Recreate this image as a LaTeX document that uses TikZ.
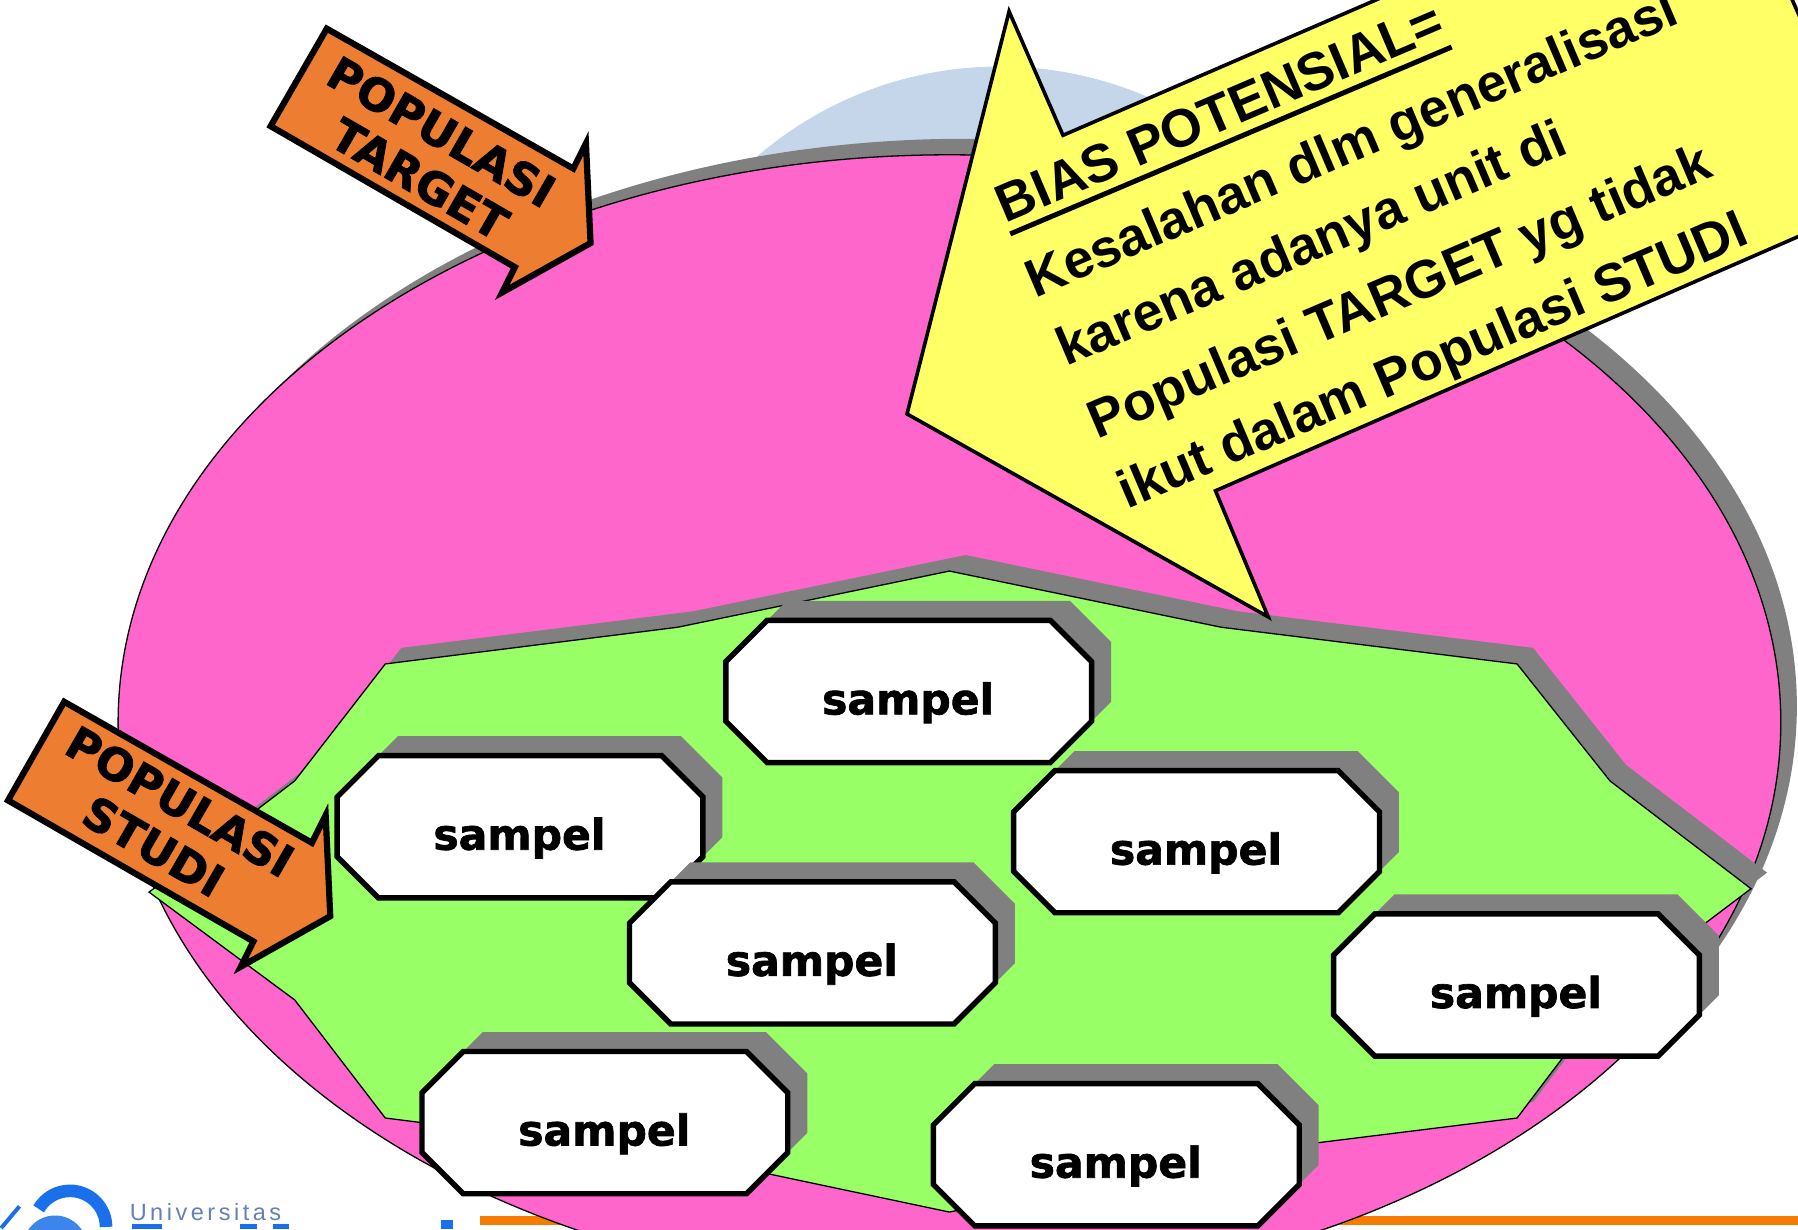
\documentclass[tikz,border=0pt]{standalone}
\usepackage{fontspec}
\setmainfont{Liberation Sans}
\newfontfamily\verd{DejaVu Sans}[BoldFeatures={FakeBold=1.6}]
\newfontfamily\logofont{Liberation Sans}[LetterSpace=15]
\definecolor{pinkfill}{HTML}{FF66CC}
\definecolor{greenfill}{HTML}{99FF66}
\definecolor{yellowfill}{HTML}{FFFF66}
\definecolor{arroworange}{HTML}{ED7D31}
\definecolor{shadowgray}{HTML}{808080}
\definecolor{paleblue}{HTML}{C6D6EA}
\definecolor{barorange}{HTML}{F57C00}
\definecolor{logoblue}{HTML}{1A6FEA}
\definecolor{logotext}{HTML}{6480B4}
\tikzset{
  region/.style={draw=black,line width=1.3pt,line join=miter},
  sampelshape/.style={draw=black,fill=white,line width=5.4pt,line join=miter},
  sampeltext/.style={font=\verd\bfseries\fontsize{42.5}{42.5}\selectfont,anchor=base,inner sep=0pt},
  callarrow/.style={draw=black,fill=yellowfill,line width=3.6pt,line join=miter},
  orangearrow/.style={draw=black,fill=arroworange,line width=6.2pt,line join=miter,miter limit=10},
  arrowtext/.style={font=\verd\bfseries\fontsize{45}{45}\selectfont,rotate=-30,inner sep=0pt,anchor=center},
  calltext/.style={font=\bfseries\fontsize{53.5}{53.5}\selectfont,rotate=23.1,inner sep=0pt,anchor=base west},
}
\begin{document}
\begin{tikzpicture}[x=1.14668pt,y=-1.14668pt]
\useasboundingbox (0,0) rectangle (1568,1072);
\clip (0,0) rectangle (1568,1072);
% logo fragments
\draw[logoblue,line width=12.6pt] (92.5,1070) arc[start angle=0,end angle=-150,radius=31.5];
\fill[logoblue!85!white] (48,1088) circle[radius=28];
\draw[logoblue,line width=4pt] (1,1071) -- (17,1052);
\node[font=\logofont\fontsize{23.5}{23.5}\selectfont,text=logotext,anchor=base west,inner sep=0pt] (univ) at (113,1064) {Universitas};
\fill[logoblue] (115,1067) rectangle (141,1072);
\fill[logoblue] (209,1067) rectangle (224,1072);
\fill[logoblue] (238,1067) rectangle (252,1072);
\fill[logoblue] (385,1064) rectangle (395,1072);
\fill[barorange] (419,1060) rectangle (1568,1068.5);
% background circle
\fill[paleblue] (872,383) circle[radius=325];
% population ellipse
\fill[shadowgray] (842,616) ellipse[x radius=725,y radius=495];
\draw[region,fill=pinkfill] (828,630) ellipse[x radius=725,y radius=495];
% study population
\def\greenpts{(828,498) -- (1065,547) -- (1323,579) -- (1404,681) -- (1527,775) -- (1404,868) -- (1323,975) -- (1065,1007) -- (828,1057) -- (591,1007) -- (336,975) -- (257,872) -- (130,778) -- (257,681) -- (336,579) -- (591,547) -- cycle}
\begin{scope}[shift={(14,-14)}]
\fill[shadowgray] \greenpts;
\end{scope}
\draw[region,fill=greenfill] \greenpts;
% samples
\foreach \n/\x/\y in {a/633/541,b/294/659,c/884/672,d/549/769,e/1163/797,f/368/917,g/814/945}{
  \begin{scope}[shift={(\x,\y)}]
    \fill[shadowgray] (53,-17) -- (300,-17) -- (336,19) -- (336,71) -- (319,88) -- (319,36) -- (283,0) -- (36,0) -- cycle;
    \draw[sampelshape] (36,0) -- (283,0) -- (319,36) -- (319,88) -- (283,124) -- (36,124) -- (0,88) -- (0,36) -- cycle;
    \node[sampeltext] (s\n) at (159,82) {sampel};
  \end{scope}
}
% callout
\draw[callarrow] (880,10) -- (927,118) -- (1505,-132) -- (1640,175) -- (1060,428) -- (1106,538) -- (791,361) -- cycle;
\coordinate (ulstart) at (881,204);
\coordinate (ulend) at (1266,41);
\draw[black,line width=5pt] (ulstart) -- (ulend);
\node[calltext] (c1) at (877,195) {BIAS POTENSIAL=};
\node[calltext] (c2) at (903,260) {Kesalahan dlm generalisasi};
\node[calltext] (c3) at (930,320) {karena adanya unit di};
\node[calltext] (c4) at (957,383) {Populasi TARGET yg tidak};
\node[calltext] (c5) at (983,444) {ikut dalam Populasi STUDI};
% arrows
\draw[orangearrow] (285,25) -- (500,147) -- (511,125) -- (515,212) -- (438,255) -- (449,233) -- (236,110) -- cycle;
\node[arrowtext] (t1) at (385,115) {POPULASI};
\node[arrowtext] (t2) at (366,156) {TARGET};
\draw[orangearrow] (56,612) -- (272,735) -- (284,711) -- (288,799) -- (210,843) -- (221,821) -- (7,698) -- cycle;
\node[arrowtext] (t3) at (157,699) {POPULASI};
\node[arrowtext] (t4) at (134,738) {STUDI};
\end{tikzpicture}
\end{document}
